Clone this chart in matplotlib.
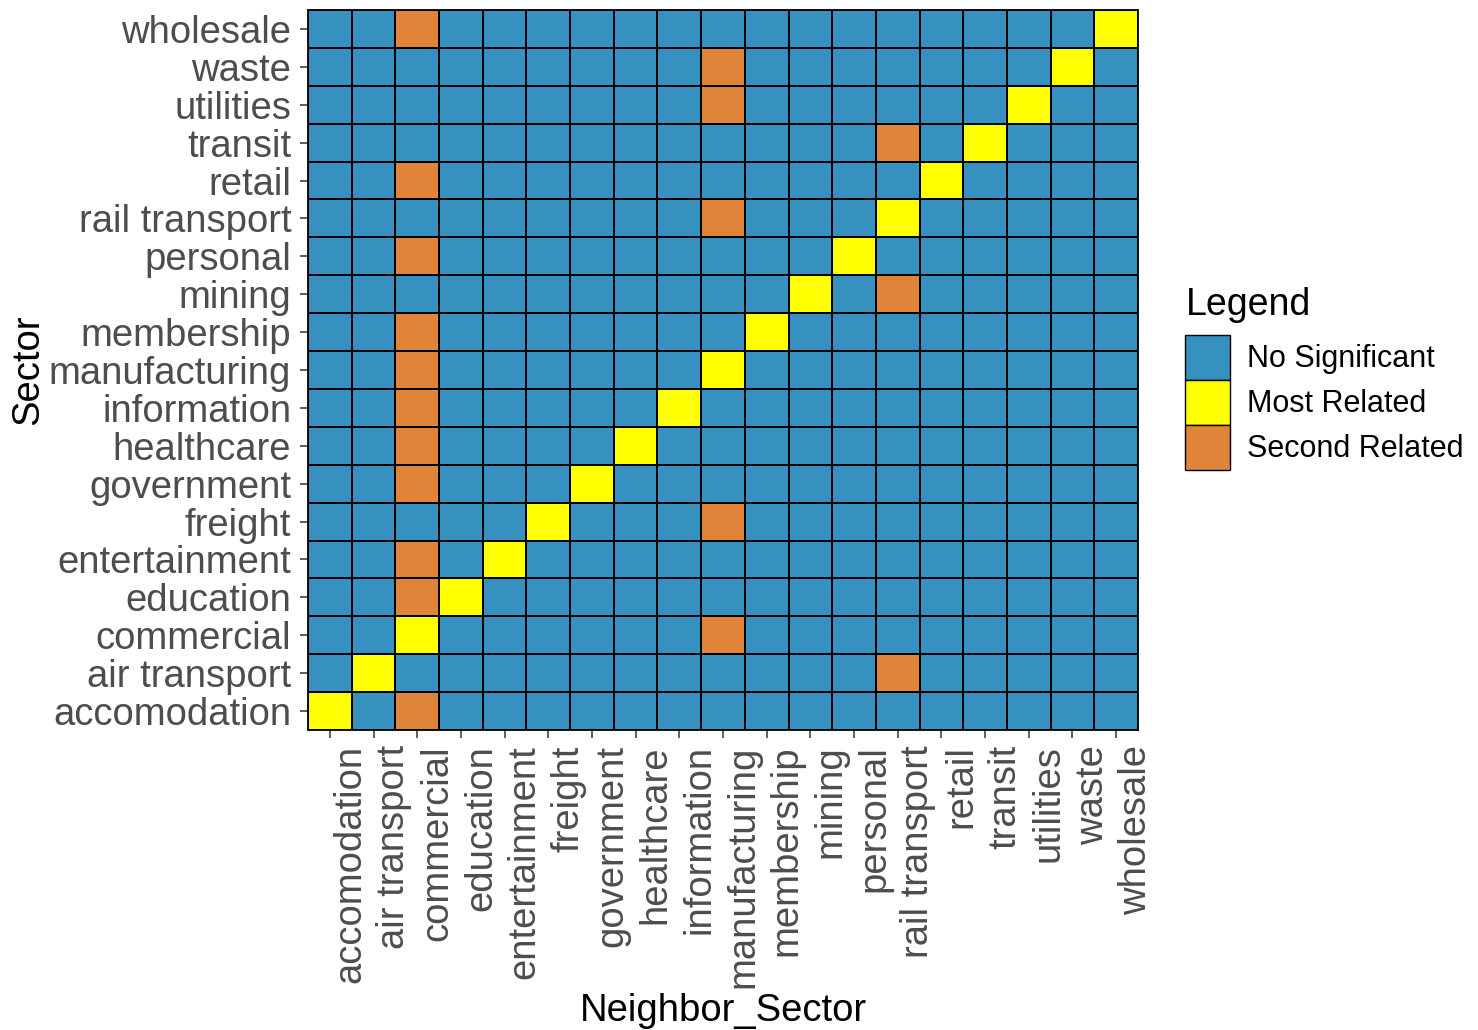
import numpy as np
import matplotlib
matplotlib.use("Agg")
import matplotlib.pyplot as plt
from matplotlib.colors import ListedColormap
from matplotlib.patches import Patch

sectors = ["accomodation", "air transport", "commercial", "education", "entertainment",
           "freight", "government", "healthcare", "information", "manufacturing",
           "membership", "mining", "personal", "rail transport", "retail", "transit",
           "utilities", "waste", "wholesale"]
# most related neighbor of each sector (row)
most_related = list(sectors)
# second related neighbor of each sector (row)
second_related = ["commercial", "rail transport", "manufacturing", "commercial", "commercial",
                  "manufacturing", "commercial", "commercial", "commercial", "commercial",
                  "commercial", "rail transport", "commercial", "manufacturing", "commercial",
                  "rail transport", "manufacturing", "manufacturing", "commercial"]
legend_labels = ["No Significant", "Most Related", "Second Related"]
colors = ["#3690C0", "#FFFF00", "#E0843A"]

n = len(sectors)
Z = np.zeros((n, n))
for i, s in enumerate(sectors):
    Z[i, sectors.index(most_related[i])] = 1
    Z[i, sectors.index(second_related[i])] = 2

plt.rcParams['font.family'] = ['Liberation Sans', 'DejaVu Sans']
fig = plt.figure(figsize=(14.78, 10.30), dpi=100)
ax = fig.add_axes([308/1478, 1-730/1030, (1138-308)/1478, (730-10)/1030])
cmap = ListedColormap(colors)
ax.pcolormesh(np.arange(n+1)-0.5, np.arange(n+1)-0.5, Z, cmap=cmap, vmin=-0.5, vmax=2.5,
              edgecolors="black", linewidth=1.3)
ax.set_xlim(-0.5, n-0.5)
ax.set_ylim(-0.5, n-0.5)
for sp in ax.spines.values():
    sp.set_linewidth(1.3)

ax.set_yticks(np.arange(n))
ax.set_yticklabels(sectors, fontsize=27.5, color="#4D4D4D")
# major ticks (marks) at tile centers, labels on shifted minor ticks
ax.set_xticks(np.arange(n))
ax.set_xticklabels([])
ax.set_xticks(np.arange(n) + 0.46, minor=True)
ax.set_xticklabels(sectors, minor=True, fontsize=27.5, color="#4D4D4D",
                   rotation=90, ha="center", va="top")
ax.tick_params(axis="both", which="major", length=6, width=1.1, color="#333333", pad=6)
ax.tick_params(axis="x", which="minor", length=0, pad=11)

ax.set_xlabel("Neighbor_Sector", fontsize=27.5, labelpad=4)
ax.set_ylabel("Sector", fontsize=27.5, labelpad=2)

handles = [Patch(facecolor=c, edgecolor="black", linewidth=1.0) for c in colors]
leg = fig.legend(handles, legend_labels, loc="upper left",
                 bbox_to_anchor=(1164/1478, 1-266/1030), frameon=False,
                 fontsize=22, title="Legend", title_fontsize=27,
                 handlelength=1.47, handleheight=1.89, labelspacing=0.0,
                 handletextpad=0.55, alignment="left", borderpad=0.2)
leg._legend_box.sep = 8

fig.savefig("out.png", dpi=100)
